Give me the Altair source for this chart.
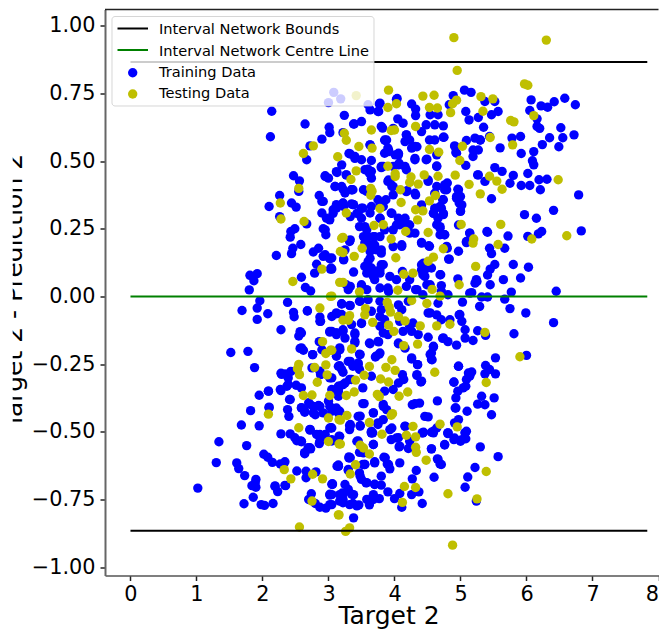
import altair as alt
import pandas as pd

train_points = [
(3.08,.754),(3.0,.716),(3.185,.73),(3.60,.708),(3.76,.683),(3.78,.714),(4.03,.728),(3.24,.669),(3.39,.637),(3.5,.646),
(2.14,.684),(2.12,.59),(2.645,.637),(3.01,.625),(3.02,.605),(2.90,.581),(3.22,.605),(2.72,.556),(2.67,.505),(3.31,.528),
(3.40,.517),(3.50,.505),(3.2,.486),(3.13,.458),(2.95,.446),(3.0,.437),(2.47,.446),(2.56,.427),(2.55,.388),(3.1,.406),
(3.2,.406),(3.25,.382),(3.37,.394),(2.86,.373),(2.92,.351),(2.26,.373),(2.10,.332),(2.44,.345),(2.51,.33),(2.26,.295),
(2.9,.308),(3.07,.32),(3.12,.339),(3.23,.332),(3.38,.339),(3.5,.326),(3.63,.308),(3.02,.283),(3.33,.295),(3.65,.462),
(3.63,.56),(3.65,.502),(3.82,.622),(3.86,.576),(3.91,.535),(4.01,.523),(3.83,.48),(3.93,.425),(3.98,.48),
(4.04,.731),(3.77,.711),(3.63,.689),(3.75,.683),(3.38,.637),(3.80,.628),(4.05,.656),(4.13,.640),(3.98,.621),(4.26,.711),
(4.32,.692),(4.32,.668),(4.54,.671),(4.66,.671),(4.89,.742),(4.83,.708),(5.06,.762),(5.16,.754),(5.37,.72),(5.52,.72),
(5.57,.683),(5.47,.671),(5.08,.683),(5.13,.652),(5.27,.661),(5.35,.625),(6.07,.726),(6.22,.704),(6.32,.699),(6.42,.719),
(6.58,.732),(6.74,.708),(6.05,.687),(6.16,.656),(6.16,.628),(6.2,.621),(6.52,.623),(6.72,.597),(6.55,.586),(6.35,.586),
(6.24,.561),(6.49,.553),(6.11,.535),(5.92,.528),(6.09,.501),(6.11,.486),(6.02,.454),(5.6,.549),(5.91,.591),(5.78,.585),
(5.44,.591),(5.09,.576),(5.22,.585),(5.30,.578),(5.27,.541),(5.19,.517),(4.91,.556),(4.93,.532),(5.08,.484),(4.75,.588),
(4.74,.63),(4.61,.634),(4.48,.634),(4.41,.609),(4.53,.578),(4.61,.578),(4.64,.523),(4.48,.505),(4.64,.482),(4.31,.554),
(4.31,.505),(4.23,.578),(4.18,.597),(4.26,.548),(3.85,.578),(3.9,.548),(3.85,.529),(4.06,.523),(3.55,.468),(3.62,.455),
(3.65,.437),(3.27,.449),(3.80,.476),(4.06,.486),(4.18,.468),(3.9,.425),(3.98,.406),(3.98,.375),(4.19,.391),(4.32,.375),
(4.51,.425),(4.8,.419),(4.76,.394),(4.64,.406),(4.96,.396),(4.94,.369),(5.0,.369),(4.98,.345),(5.0,.316),(5.26,.449),
(5.37,.425),(5.63,.462),(5.52,.476),(5.8,.447),(5.75,.418),(5.92,.41),(6.05,.41),(6.19,.431),(6.31,.433),(6.21,.394),
(5.47,.361),(6.79,.375),(5.97,.302),(6.15,.289),(6.41,.318),(4.73,.357),(4.69,.332),(4.74,.302),(4.59,.308),(3.87,.357),
(3.83,.332),(3.65,.332),(3.52,.326),(3.37,.339),(3.22,.345),(3.12,.326),(3.45,.308),(3.95,.308),(3.78,.289),(3.58,.388),
(3.35,.394),(3.75,.357),(4.16,.289),
(2.67,.268),(2.49,.25),(2.43,.24),(2.42,.219),(2.92,.25),(2.96,.228),(2.46,.178),(2.44,.158),(2.58,.192),(2.21,.151),
(2.85,.178),(2.77,.164),(2.92,.148),(3.02,.139),(2.82,.119),(2.79,.086),(3.03,.101),(1.92,.084),(1.81,.078),(1.87,.058),
(1.80,.024),(2.59,.071),(2.65,.033),(2.73,.02),(1.96,-.016),(1.92,-.043),(1.69,-.052),(2.08,-.064),(1.92,-.085),(2.38,-.022),
(2.47,-.059),(2.48,-.075),(2.68,-.054),(2.87,-.076),(2.88,-.092),(3.12,-.064),(2.28,-.123),(2.57,-.13),(2.55,-.146),(3.02,-.132),
(3.12,-.135),(2.86,-.167),(1.52,-.207),(1.78,-.203),(2.57,-.192),(2.62,-.199),(2.9,-.197),(2.76,-.215),(3.12,-.209),(1.88,-.263),
(2.28,-.284),(2.34,-.286),(2.43,-.277),(2.39,-.301),(2.75,-.264),(2.88,-.289),(3.02,-.301),(2.37,-.332),(2.28,-.348),(2.51,-.328),
(2.59,-.338),(2.09,-.35),(1.95,-.365),(2.42,-.381),(2.10,-.411),(1.82,-.422),(2.38,-.418),(2.40,-.443),(2.59,-.412),(2.7,-.393),
(2.85,-.403),(2.64,-.428),(2.8,-.437),(3.0,-.387),(3.07,-.418),(1.68,-.475),(1.95,-.478),(2.28,-.508),(2.42,-.508),(2.72,-.494),
(2.82,-.51),(3.02,-.486),(2.93,-.517),(3.15,-.258),(3.15,-.332),(3.15,-.357),(3.15,-.43),(3.17,-.19),
(1.34,-.537),(1.76,-.551),(2.02,-.583),(2.08,-.594),(2.15,-.613),(1.3,-.614),(1.61,-.615),(1.64,-.636),(1.73,-.662),(1.90,-.676),
(1.89,-.689),(1.84,-.699),(1.90,-.705),(2.19,-.702),(2.23,-.721),(2.35,-.699),(2.34,-.611),(2.27,-.619),(2.52,-.645),(2.66,-.646),
(2.66,-.67),(2.81,-.648),(2.64,-.581),(2.73,-.563),(2.52,-.533),(2.59,-.537),(2.86,-.544),(3.13,-.627),(3.06,-.695),(3.02,-.734),
(2.74,-.729),(2.70,-.75),(2.8,-.765),(2.87,-.779),(2.96,-.782),(3.02,-.769),(3.17,-.732),(3.17,-.756),(1.86,-.742),(1.72,-.766),
(1.98,-.769),(2.03,-.772),(2.16,-.765),(1.02,-.708),
(6.83,.242),(6.23,.24),(6.18,.231),(6.02,.222),(5.72,.223),(5.41,.237),(5.14,.234),(5.09,.199),(5.44,.178),(5.47,.158),
(5.67,.178),(4.97,.167),(4.82,.138),(5.8,.118),(6.03,.108),(5.52,.118),(5.45,.101),(5.41,.079),(5.24,.062),(5.22,.049),
(5.45,.043),(5.65,.062),(5.91,.068),(4.96,.065),(4.69,.08),(5.17,.014),(5.77,.016),(6.45,.019),(5.32,-.002),(5.41,-.002),
(5.67,-.01),(5.03,-.021),(5.29,-.037),(5.75,-.045),(5.99,-.061),(6.41,-.097),(4.98,-.068),(5.02,-.092),(5.07,-.123),(5.26,-.127),
(5.38,-.144),(5.81,-.138),(4.84,-.086),(5.07,-.154),(5.19,-.163),(4.73,-.155),(4.81,-.167),(4.94,-.18),(4.51,-.151),(4.59,-.187),
(4.54,-.215),(4.57,-.234),(6.0,-.218),(5.53,-.227),(4.97,-.258),(5.38,-.255),(5.44,-.27),(5.53,-.286),(5.37,-.286),(5.17,-.279),
(5.14,-.295),(5.09,-.307),(4.9,-.317),(5.08,-.332),(4.96,-.35),(4.93,-.375),(4.93,-.412),(5.1,-.424),(5.32,-.369),(5.26,-.398),
(5.37,-.4),(5.51,-.375),(5.47,-.437),(4.65,-.386),(4.38,-.394),(4.27,-.4),(4.46,-.443),(4.51,-.445),(4.97,-.455),(4.91,-.467),
(4.64,-.486),(4.56,-.502),(4.42,-.504),(4.81,-.504),(5.07,-.504),(4.91,-.523),(4.16,-.48),(3.93,-.492),(3.68,-.43),(3.75,-.467),
(3.83,-.406),(3.65,-.498),(3.48,-.477),(3.45,-.443),(3.32,-.477),(3.17,-.424),(3.1,-.421),(3.52,-.396),(4.26,-.227),(4.35,-.252),
(4.34,-.289),(4.4,-.316),(4.12,-.289),(4.14,-.307),(4.06,-.32),(3.98,-.344),(3.85,-.35),(4.06,-.175),(4.16,-.191),(3.76,-.168),
(3.63,-.175),(3.77,-.213),(3.71,-.224),(3.47,-.213),(3.4,-.141),(3.4,-.166),(3.25,-.154),(3.22,-.123),(3.12,-.135),(3.05,-.129),
(3.17,-.197),(3.12,-.221),(3.17,-.256),(3.22,-.28),(3.3,-.24),(3.45,-.246),(3.37,-.258),(3.47,-.27),(3.65,-.295),(3.25,-.32),
(3.17,-.332),(3.32,-.307),(3.15,-.369),(3.05,-.301),(3.52,-.338),(3.05,-.344),
(3.47,.258),(3.58,.246),(3.53,.221),(3.68,.221),(3.78,.221),(3.63,.191),(3.73,.172),(3.80,.16),(3.32,.203),(3.25,.172),
(3.23,.135),(3.05,.142),(3.05,.101),(3.38,.09),(3.6,.129),(3.55,.111),(3.65,.105),(3.58,.086),(3.68,.074),(3.8,.117),
(3.78,.099),(3.7,.062),(3.93,.074),(4.03,.062),(4.12,.092),(4.23,.062),(4.11,.185),(3.98,.246),(4.08,.265),(4.21,.265),
(4.23,.234),(3.85,.246),(4.41,.199),(4.52,.187),(4.79,.185),(4.69,.228),(4.76,.228),(4.64,.265),(4.69,.252),(4.41,.117),
(4.56,.105),(4.46,.099),(4.43,.08),(3.5,.043),(3.58,.025),(3.3,.025),(3.27,.043),(3.6,-.012),(3.47,-.018),(3.2,-.028),
(3.32,-.033),(3.12,-.061),(3.78,.031),(3.9,.031),(3.78,-.018),(3.8,-.049),(3.78,-.074),(3.85,-.086),(4.06,-.031),(4.11,-.049),
(4.21,-.018),(4.32,.025),(4.43,.006),(4.54,.043),(4.71,.04),(4.71,.019),(4.81,.006),(4.66,-.025),(4.54,-.061),(4.64,-.068),
(4.71,-.086),(4.28,-.098),(4.36,-.141),(4.26,-.129),(4.13,-.129),(3.9,-.141),(3.5,-.098),(3.78,-.11),(3.05,-.074),(3.35,-.104),
(5.57,-.592),(5.3,-.556),(5.22,-.632),(5.11,-.667),(5.07,-.705),(5.24,-.756),(4.76,-.549),(4.56,-.563),(4.65,-.6),(4.69,-.619),
(4.6,-.668),(4.33,-.643),(4.27,-.674),(4.37,-.722),(4.42,-.765),(4.11,-.779),(4.0,-.747),(4.08,-.728),(4.26,-.732),(3.9,-.722),
(3.77,-.747),(3.68,-.732),(3.62,-.77),(3.58,-.75),(3.46,-.77),(3.37,-.765),(3.32,-.769),(3.38,-.818),(3.22,-.75),(3.21,-.726),
(3.05,-.732),(3.05,-.769),(3.06,-.692),(3.25,-.695),(3.3,-.713),(3.38,-.732),(3.15,-.627),(3.31,-.597),(3.3,-.643),(3.52,-.621),
(3.47,-.652),(3.5,-.676),(3.57,-.689),(3.7,-.611),(3.8,-.664),(3.7,-.695),(3.8,-.697),(3.84,-.594),(3.89,-.619),(3.93,-.637),
(4.08,-.615),(3.68,-.547),(3.43,-.535),(3.47,-.576),(4.07,-.556),(4.21,-.562),(3.95,-.529),(4.03,-.523),(4.43,-.504),(4.59,-.504),
(4.81,-.507),(4.9,-.529),(5.0,-.535),(5.08,-.526),(5.07,-.504),(3.17,-.517),(3.65,-.504),(3.32,-.492),(3.05,-.529),(4.23,-.535),
(3.33,.526),(3.40,.51),(3.60,.47),(3.12,.461),(3.27,.449),(2.95,.443),(3.1,.406),(3.22,.396),(3.35,.394),(3.53,.394),
(2.9,.351),(3.12,.332),(3.22,.344),(3.35,.342),(3.78,.338),(3.07,.307),(2.97,.289),(2.95,.246),(3.5,.289),(3.43,.307),
(3.55,.258),(3.6,.221),(3.55,.197),(3.7,.221),(3.7,.19),(3.8,.172),(3.63,.166),(3.78,.289),(3.96,.307),(4.06,.289),
(4.03,.264),(4.13,.27),(4.23,.264),(4.31,.234),(4.11,.191),(3.98,.184),(4.41,.197),(4.53,.185),(3.33,.209),(2.95,.154),
(3.02,.141),(3.23,.138),(3.04,.105),(3.63,.141),(3.58,.111),(3.68,.092),(3.83,.117),(3.78,.086),(4.44,.123),(4.41,.098),
(4.46,.074),(4.7,.08),(4.83,.138),(4.8,.178),(3.5,.037),(3.33,.037),(3.91,.018),(4.18,.037),(4.34,.025),(4.49,.043),
(5.25,.055),(5.14,.012),(4.07,.492),(4.16,.48),(3.91,.43),(3.96,.406),(4.18,.387),(4.31,.381),(4.64,.48),(4.51,.43),
(4.61,.381),(4.76,.412),(4.79,.394),(4.74,.357),(4.61,.326),(4.71,.326),(4.59,.307),(4.74,.307),(4.66,.289),(4.69,.258),
(4.76,.228),(4.41,.338),(4.97,.394),(4.94,.363),(5.02,.338),(5.0,.314),(4.97,.264),(5.14,.234),(5.09,.203),(5.4,.24),
(5.27,.449),(4.92,.553),(4.94,.529),(5.19,.541),(5.3,.578),(4.18,.597),(4.34,.553),(4.31,.51),(3.88,.578),(3.91,.541),
(4.06,.529),(4.16,.572),(4.49,.507),(3.63,.56),(4.74,.588),(3.8,.48),
(2.68,-.053),(2.87,-.092),(3.2,-.027),(3.33,-.034),(3.48,-.018),(3.2,-.067),(3.5,-.1),(3.65,-.055),(3.02,-.129),(3.22,-.129),
(3.12,-.141),(3.4,-.135),(3.4,-.172),(2.59,-.135),(2.59,-.19),(2.76,-.215),(3.17,-.197),(3.48,-.215),(3.33,-.24),(3.45,-.252),
(3.2,-.27),(3.22,-.326),(3.15,-.35),(3.35,-.307),(2.87,-.276),(3.78,-.209),(3.72,-.221),(3.62,-.172),(3.75,-.166),(3.83,-.135),
(4.08,-.092),(4.23,-.11),(4.06,-.172),(4.26,-.231),(4.35,-.252),(4.34,-.292),(4.41,-.313),(4.59,-.184),(4.56,-.209),(4.56,-.233),
(4.74,-.153),(4.99,-.067),(4.51,-.061),(4.97,-.258),(5.12,-.283),(4.9,-.316),(5.04,-.338),(4.92,-.412),(4.31,-.396),(3.88,-.418),
(3.83,-.399),(3.54,-.396),(3.12,-.412),(3.02,-.406),(2.87,-.406),(2.77,-.406),(2.64,-.424),(3.48,-.479),(3.33,-.473),(3.68,-.43),
(3.75,-.473),(3.96,-.486),(3.83,-.455),(3.65,-.504),(4.06,-.522),(4.08,-.553),(4.16,-.479),(4.44,-.502),(4.59,-.498),(4.81,-.504),
(5.09,-.498),(5.02,-.529),(4.56,-.563),(4.76,-.547),(4.66,-.602),(4.71,-.621),(2.72,-.492),(2.87,-.535),(3.05,-.486),(2.95,-.51),
(3.16,-.516),(2.59,-.535),(2.69,-.559),(2.64,-.578),(3.33,-.596),(3.15,-.623),(3.55,-.621),(3.7,-.615),(3.86,-.596),(3.91,-.621),
(3.53,-.578),(2.29,-.288),(2.39,-.325),(2.09,-.35),(2.27,-.344),(2.41,-.381),(2.1,-.409),(2.59,-.411),(2.72,-.399),(2.85,-.405),
(2.77,-.43),(2.92,-.43),(3.05,-.424),(3.33,-.479),(3.48,-.442),(3.67,-.504),(3.04,-.485),(2.72,-.491),(2.87,-.51),(3.05,-.534),
(2.57,-.534),(2.49,-.522),(2.72,-.559),(2.64,-.577),(3.31,-.593),(3.45,-.534),(3.68,-.547),(3.15,-.627),(3.3,-.639),(3.55,-.621),
(3.48,-.664),(3.58,-.688),(3.7,-.694),(3.05,-.694),(2.34,-.698),(2.19,-.7),(3.02,-.731),(3.22,-.731),(3.35,-.731),(3.22,-.762),
(3.43,-.774),(3.68,-.75),
]

test_points = [
(4.90,.956),(6.30,.947),(4.95,.835),(5.97,.785),(6.02,.78),(3.91,.762),(3.42,.742),(4.43,.74),(4.60,.743),(5.31,.738),
(5.49,.73),(4.94,.725),(4.88,.712),(3.90,.698),(4.03,.712),(4.53,.698),(4.65,.696),(4.85,.679),(5.34,.684),(6.11,.668),
(5.76,.65),(5.81,.645),(3.65,.615),(3.95,.613),(4.0,.615),(4.32,.628),(3.24,.603),(3.27,.577),(3.46,.554),(3.66,.548),
(5.45,.587),(5.03,.555),(5.79,.56),(4.53,.543),(4.67,.533),(3.14,.516),(4.99,.502),(3.90,.481),(3.42,.464),(3.34,.432),
(4.01,.453),(4.01,.443),(4.45,.449),(4.66,.444),(4.92,.448),(4.25,.441),(4.23,.421),(4.36,.415),(5.44,.444),(5.55,.426),
(5.63,.396),(6.48,.431),(5.13,.414),(5.30,.379),(3.64,.399),(3.66,.389),(3.64,.374),(4.09,.394),(4.62,.373),(4.53,.353),
(4.10,.347),(3.78,.325),(3.27,.308),(4.32,.320),(4.43,.316),(4.35,.283),
(2.62,.528),(2.77,.556),(2.55,.399),(2.27,.345),(2.28,.286),(2.63,.277),
(2.90,.101),(2.46,.055),(3.03,0),(2.87,-.043),(3.17,.052),(3.20,.215),(3.18,.166),(2.91,-.167),(3.03,-.199),(2.96,-.211),
(2.96,-.253),(2.55,-.251),(2.53,-.267),(2.56,-.289),(2.79,-.262),(2.98,-.29),(2.83,-.317),(2.62,-.366),(2.75,-.364),(3.02,-.366),
(2.09,-.435),(3.0,-.449),(3.16,-.455),(2.55,-.485),(3.0,-.536),(3.16,-.545),(2.33,-.64),(2.76,-.657),(2.43,-.674),(2.91,-.674),
(2.75,-.756),(3.15,-.807),(2.56,-.852),
(3.69,.262),(3.83,.265),(5.01,.266),(5.61,.266),(3.22,.218),(4.17,.24),(4.51,.236),(3.95,.212),(6.61,.224),(6.08,.212),
(5.20,.212),(5.19,.197),(5.57,.192),(3.51,.178),(3.22,.162),(3.39,.148),(4.74,.176),(4.02,.143),(4.59,.145),(4.51,.13),
(5.23,.111),(4.28,.086),(4.14,.082),(3.22,.052),(4.98,.043),(3.47,.017),(4.05,.023),(4.57,.026),(4.69,.001),(3.05,.001),
(4.26,-.015),(3.89,-.022),(4.49,-.026),(3.92,-.039),(3.94,-.058),(3.56,-.045),(3.55,-.068),(4.06,-.074),(4.16,-.091),(3.32,-.071),
(3.22,-.088),(3.30,-.088),(3.67,-.096),(3.91,-.106),(3.99,-.129),(4.39,-.109),(4.64,-.109),(4.84,-.103),(5.37,-.133),(4.14,-.182),
(4.35,-.176),(3.35,-.194),(3.05,-.199),(5.90,-.223),(3.96,-.234),(3.62,-.259),(3.87,-.262),(4.01,-.273),(4.61,-.28),(3.54,-.291),
(3.41,-.309),(3.79,-.305),(3.91,-.316),(5.39,-.318),(3.39,-.353),(3.27,-.366),(3.74,-.362),(3.77,-.37),(4.07,-.369),(4.2,-.353),
(3.97,-.433),(3.95,-.439),(3.28,-.44),(3.18,-.457),(3.62,-.466),(4.69,-.472),(4.95,-.482),(4.28,-.48),(3.81,-.509),(4.18,-.513),
(4.32,-.519),(3.18,-.545),(3.48,-.55),(3.53,-.56),(3.62,-.582),(4.32,-.557),(4.33,-.576),(4.48,-.605),(3.41,-.622),(3.33,-.656),
(5.39,-.647),(4.15,-.702),(4.32,-.706),(4.81,-.729),(4.12,-.761),(5.25,-.748),(3.16,-.807),(3.32,-.855),(3.26,-.868),(4.88,-.919),
]

series_names = ["Interval Network Bounds", "Interval Network Centre Line", "Training Data", "Testing Data"]
series_colors = ["#000000", "#008000", "#0000ff", "#bfbf00"]

line_levels = [0.866, -0.866, 0.0]
line_series = [series_names[0], series_names[0], series_names[1]]
line_start = [0.0, 0.0, 0.0]
line_end = [7.83, 7.83, 7.83]

x_ticks = [0, 1, 2, 3, 4, 5, 6, 7, 8]
y_ticks = [-1.0, -0.75, -0.5, -0.25, 0.0, 0.25, 0.5, 0.75, 1.0]
x_domain = [-0.386, 8.0]
y_domain = [-1.031, 1.06]

points = pd.DataFrame(
    [{"x": a, "y": b, "series": series_names[2]} for a, b in train_points]
    + [{"x": a, "y": b, "series": series_names[3]} for a, b in test_points]
)
lines = pd.DataFrame({"x": line_start, "x2": line_end, "y": line_levels, "series": line_series})

W, H = 553.5, 566
FONT = "DejaVu Sans"
DOT = 88

x_enc = alt.X("x:Q", scale=alt.Scale(domain=x_domain, nice=False, zero=False),
              axis=alt.Axis(values=x_ticks, grid=False, title="Target 2", labelFontSize=20.8, titleFontSize=25,
                            titleFontWeight="normal", labelFont=FONT, titleFont=FONT, tickSize=5, tickWidth=1.5,
                            tickColor="#222222", domainColor="#555555", domainWidth=1.6, labelColor="#000000",
                            titleColor="#000000", labelPadding=4, titleX=283.5, titleY=48, titleBaseline="alphabetic",
                            titleAlign="center", labelOverlap=False, labelFlush=True, format="d"))
y_enc = alt.Y("y:Q", scale=alt.Scale(domain=y_domain, nice=False, zero=False),
              axis=alt.Axis(values=y_ticks, grid=False, title="Target 2 - Prediction 2", labelFontSize=20.8, titleFontSize=25,
                            titleFontWeight="normal", labelFont=FONT, titleFont=FONT, tickSize=5, tickWidth=1.5,
                            tickColor="#222222", domainColor="#666666", domainWidth=2, labelColor="#000000",
                            titleColor="#000000", labelPadding=5, titleX=-84, titleY=281, titleAngle=270,
                            titleBaseline="alphabetic", titleAlign="center", labelOverlap=False, format=".2f"))

color_scale = alt.Scale(domain=series_names, range=series_colors)
one_row = pd.DataFrame({"row": [0]})

scatter = alt.Chart(points).mark_point(filled=True, opacity=1, size=DOT, strokeWidth=0).encode(
    x=x_enc,
    y=y_enc,
    color=alt.Color("series:N", scale=color_scale, legend=None),
)

rules = alt.Chart(lines).mark_rule(strokeWidth=2).encode(
    x=x_enc,
    x2="x2:Q",
    y=y_enc,
    color=alt.Color("series:N", scale=color_scale, legend=None),
)

top_spine = alt.Chart(pd.DataFrame({"y": [y_domain[1]]})).mark_rule(color="#222222", strokeWidth=1.5, clip=False).encode(
    y=y_enc,
    x=alt.value(0),
    x2=alt.value(W),
)

title_mask = alt.Chart(one_row).mark_rect(color="#ffffff", clip=False).encode(
    x=alt.value(-97), x2=alt.value(-92.3), y=alt.value(0), y2=alt.value(H),
)

# Legend drawn on top of the data, semi-transparent like the original frame
legend_box = alt.Chart(one_row).mark_rect(
    fill="#ffffff", fillOpacity=0.8, stroke="#cccccc", strokeOpacity=0.8, strokeWidth=1, cornerRadius=3
).encode(x=alt.value(7), x2=alt.value(269), y=alt.value(7), y2=alt.value(96.5))

legend_layers = [legend_box]
for name, colour, row_y in zip(series_names[:2], series_colors[:2], [19, 40.5]):
    legend_layers.append(
        alt.Chart(one_row).mark_rule(color=colour, strokeWidth=2).encode(
            x=alt.value(12.5), x2=alt.value(43), y=alt.value(row_y))
    )
for name, colour, row_y in zip(series_names[2:], series_colors[2:], [63.2, 84.5]):
    legend_layers.append(
        alt.Chart(one_row).mark_point(filled=True, opacity=1, size=DOT, color=colour, strokeWidth=0).encode(
            x=alt.value(27.7), y=alt.value(row_y))
    )
for name, row_y in zip(series_names, [24.8, 46, 67.2, 88.2]):
    legend_layers.append(
        alt.Chart(pd.DataFrame({"label": [name]})).mark_text(
            align="left", baseline="alphabetic", font=FONT, fontSize=14.6, color="#000000"
        ).encode(x=alt.value(54), y=alt.value(row_y), text="label:N")
    )

chart = alt.layer(scatter, rules, top_spine, title_mask, *legend_layers).properties(
    width=W,
    height=H,
    autosize=alt.AutoSizeParams(type="none"),
    padding={"left": 97, "top": 1.5, "right": 0.5, "bottom": 54},
    background="#ffffff",
).configure_view(stroke=None)

chart.save("out.html", embed_options={"renderer": "svg", "actions": False})
